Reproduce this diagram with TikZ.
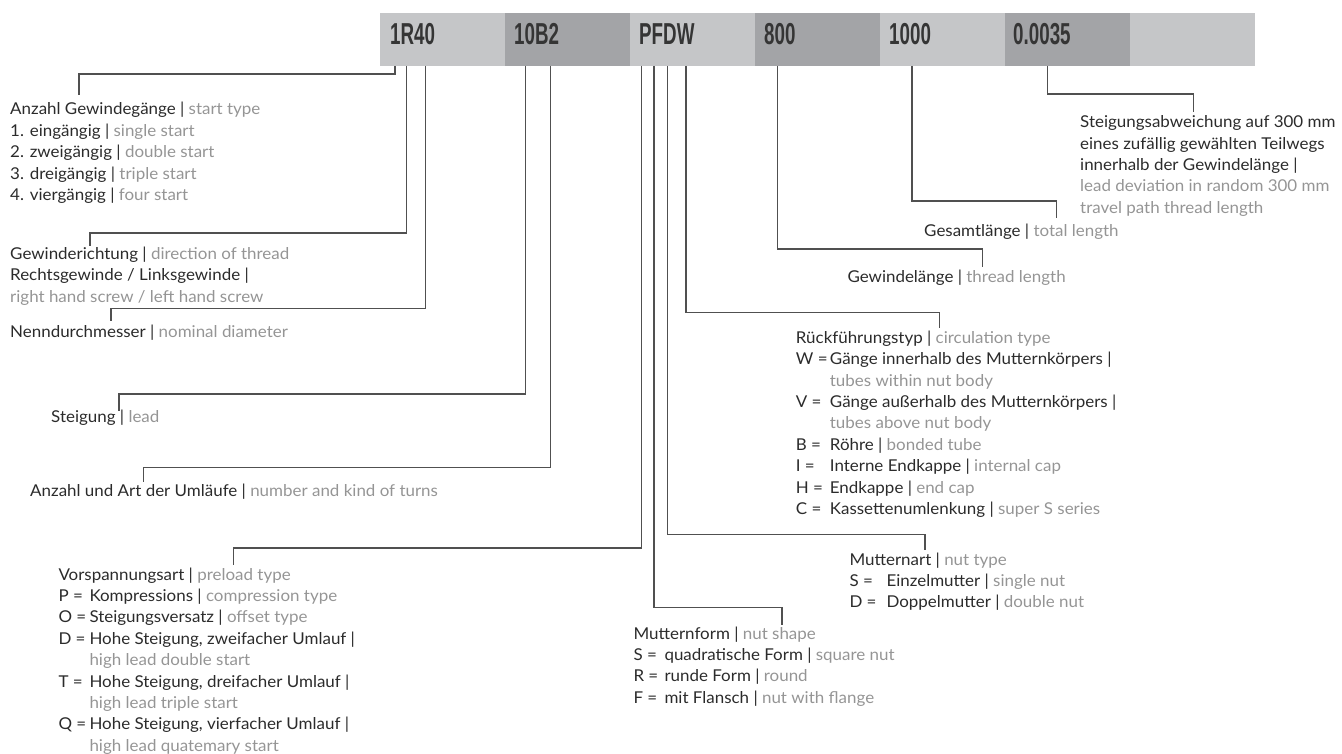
\documentclass[tikz,border=0pt]{standalone}
\usepackage{fontspec}
\setmainfont{Lato}[FakeStretch=1.04]
\newfontfamily\barfont{Liberation Sans}[FakeStretch=0.62]
\definecolor{dtxt}{HTML}{2B2B2B}
\definecolor{gtxt}{HTML}{959595}
\definecolor{lbar}{HTML}{C5C6C8}
\definecolor{dbar}{HTML}{A3A4A7}
\definecolor{btxt}{HTML}{353535}
\definecolor{lne}{HTML}{505050}
\newcommand\gr[1]{\textcolor{gtxt}{#1}}
\newcommand\sepb{\ \textbar\ }
\newcommand\pf[1]{\makebox[31pt][l]{#1}}
\newcommand\ind{\hspace*{31pt}}
\begin{document}
\begin{tikzpicture}[x=1pt,y=-1pt,
  lbl/.style={anchor=base west, inner sep=0pt, align=left, text=dtxt,
    font=\fontsize{16.3}{21.4}\selectfont},
  seg/.style={anchor=north west, inner sep=0pt, minimum width=125pt, minimum height=53pt, draw=none},
  code/.style={anchor=base west, inner sep=0pt, text=btxt, font=\barfont\bfseries\fontsize{30.3}{32}\selectfont},
  conn/.style={draw=lne, line width=1.3pt}]
\useasboundingbox (0,0) rectangle (1342,754);
% bar
\node[seg, fill=lbar] (s1) at (380,13) {};
\node[seg, fill=dbar] (s2) at (505,13) {};
\node[seg, fill=lbar] (s3) at (630,13) {};
\node[seg, fill=dbar] (s4) at (755,13) {};
\node[seg, fill=lbar] (s5) at (880,13) {};
\node[seg, fill=dbar] (s6) at (1005,13) {};
\node[seg, fill=lbar] (s7) at (1130,13) {};
\node[code] (c1) at (390,45) {1R40};
\node[code] (c2) at (514,45) {10B2};
\node[code] (c3) at (639,45) {PFDW};
\node[code] (c4) at (764,45) {800};
\node[code] (c5) at (889,45) {1000};
\node[code] (c6) at (1013,45) {0.0035};
% labels (anchor = baseline of the last line)
\node[lbl] (lA) at (10,200.6) {Anzahl Gewindegänge\sepb\gr{start type}\\
1. eingängig\sepb\gr{single start}\\
2. zweigängig\sepb\gr{double start}\\
3. dreigängig\sepb\gr{triple start}\\
4. viergängig\sepb\gr{four start}};
\node[lbl] (lB) at (10,302.1) {Gewinderichtung\sepb\gr{direction of thread}\\
Rechtsgewinde / Linksgewinde\sepb\\
\gr{right hand screw / left hand screw}};
\node[lbl] (lC) at (10,337.3) {Nenndurchmesser\sepb\gr{nominal diameter}};
\node[lbl] (lD) at (51,422.3) {Steigung\sepb\gr{lead}};
\node[lbl] (lE) at (30,496.7) {Anzahl und Art der Umläufe\sepb\gr{number and kind of turns}};
\node[lbl] (lF) at (58.3,751.2) {Vorspannungsart\sepb\gr{preload type}\\
\pf{P =}Kompressions\sepb\gr{compression type}\\
\pf{O =}Steigungsversatz\sepb\gr{offset type}\\
\pf{D =}Hohe Steigung, zweifacher Umlauf\sepb\\
\ind\gr{high lead double start}\\
\pf{T =}Hohe Steigung, dreifacher Umlauf\sepb\\
\ind\gr{high lead triple start}\\
\pf{Q =}Hohe Steigung, vierfacher Umlauf\sepb\\
\ind\gr{high lead quatemary start}};
\node[lbl] (lG) at (633.3,703.2) {Mutternform\sepb\gr{nut shape}\\
\pf{S =}quadratische Form\sepb\gr{square nut}\\
\pf{R =}runde Form\sepb\gr{round}\\
\pf{F =}mit Flansch\sepb\gr{nut with flange}};
\node[lbl] (lH) at (849.3,607.8) {Mutternart\sepb\gr{nut type}\\
\makebox[37pt][l]{S =}Einzelmutter\sepb\gr{single nut}\\
\makebox[37pt][l]{D =}Doppelmutter\sepb\gr{double nut}};
\node[lbl] (lI) at (795.7,514.5) {Rückführungstyp\sepb\gr{circulation type}\\
\makebox[34pt][l]{W =}Gänge innerhalb des Mutternkörpers\sepb\\
\hspace*{34pt}\gr{tubes within nut body}\\
\makebox[34pt][l]{V =}Gänge außerhalb des Mutternkörpers\sepb\\
\hspace*{34pt}\gr{tubes above nut body}\\
\makebox[34pt][l]{B =}Röhre\sepb\gr{bonded tube}\\
\makebox[34pt][l]{I =}Interne Endkappe\sepb\gr{internal cap}\\
\makebox[34pt][l]{H =}Endkappe\sepb\gr{end cap}\\
\makebox[34pt][l]{C =}Kassettenumlenkung\sepb\gr{super S series}};
\node[lbl] (lJ) at (847.3,282.3) {Gewindelänge\sepb\gr{thread length}};
\node[lbl] (lK) at (924,236.7) {Gesamtlänge\sepb\gr{total length}};
\node[lbl] (lL) at (1080,213.3) {Steigungsabweichung auf 300 mm\\
eines zufällig gewählten Teilwegs\\
innerhalb der Gewindelänge\sepb\\
\gr{lead deviation in random 300 mm}\\
\gr{travel path thread length}};
% connector points
\coordinate (t1) at (395,66);   \coordinate (k1) at (79,74);     \coordinate (e1) at (79,95);
\coordinate (t2) at (406.7,66); \coordinate (k2) at (90,233);    \coordinate (e2) at (90,246);
\coordinate (t3) at (425.5,66); \coordinate (k3) at (111,308.3); \coordinate (e3) at (111,321);
\coordinate (t4) at (525.7,66); \coordinate (k4) at (119,394);   \coordinate (e4) at (119,410.7);
\coordinate (t5) at (550.3,66); \coordinate (k5) at (143.3,467.7); \coordinate (e5) at (143.3,481.7);
\coordinate (t6) at (641.7,66); \coordinate (k6) at (233.3,548); \coordinate (e6) at (233.3,565);
\coordinate (t7) at (654,66);   \coordinate (k7) at (782,607.7); \coordinate (e7) at (782,625);
\coordinate (t8) at (667.3,66); \coordinate (k8) at (925,534.5); \coordinate (e8) at (925,550);
\coordinate (t9) at (686,66);   \coordinate (k9) at (939.3,312.3); \coordinate (e9) at (939.3,328.3);
\coordinate (t10) at (777.3,66); \coordinate (k10) at (982.7,249); \coordinate (e10) at (982.7,266.7);
\coordinate (t11) at (912,66);  \coordinate (k11) at (1056.7,201); \coordinate (e11) at (1056.7,217.7);
\coordinate (t12) at (1047.5,66); \coordinate (k12) at (1193.3,94); \coordinate (e12) at (1193.3,111.7);
\foreach \i in {1,...,12} {\draw[conn] (t\i) |- (k\i) -- (e\i);}
\end{tikzpicture}
\end{document}
